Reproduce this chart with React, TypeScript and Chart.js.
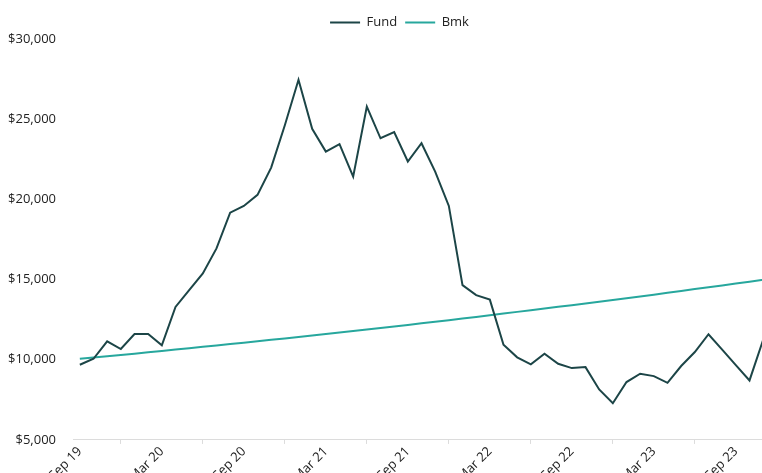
import React, { useEffect, useRef } from "react";
import { Chart, registerables } from "chart.js";

Chart.register(...registerables);

// Monthly categories Sep 19 .. Nov 23
const categories: string[] = [
  "Sep 19", "Oct 19", "Nov 19", "Dec 19",
  "Jan 20", "Feb 20", "Mar 20", "Apr 20", "May 20", "Jun 20", "Jul 20", "Aug 20", "Sep 20", "Oct 20", "Nov 20", "Dec 20",
  "Jan 21", "Feb 21", "Mar 21", "Apr 21", "May 21", "Jun 21", "Jul 21", "Aug 21", "Sep 21", "Oct 21", "Nov 21", "Dec 21",
  "Jan 22", "Feb 22", "Mar 22", "Apr 22", "May 22", "Jun 22", "Jul 22", "Aug 22", "Sep 22", "Oct 22", "Nov 22", "Dec 22",
  "Jan 23", "Feb 23", "Mar 23", "Apr 23", "May 23", "Jun 23", "Jul 23", "Aug 23", "Sep 23", "Oct 23", "Nov 23",
];

const fundValues: number[] = [
  9690, 10060, 11150, 10670, 11600, 11600, 10900, 13290, 14340, 15380, 16940, 19170,
  19590, 20280, 21980, 24620, 27460, 24400, 22980, 23440, 21420, 25790, 23810, 24190,
  22360, 23500, 21730, 19590, 14650, 14030, 13750, 10940, 10150, 9710, 10380, 9750,
  9480, 9540, 8150, 7290, 8610, 9130, 8980, 8560, 9610, 10480, 11590, 10630,
  9670, 8710, 11250,
];

const bmkValues: number[] = [
  10060, 10140, 10220, 10300, 10380, 10465, 10550, 10635, 10720, 10805, 10890, 10975,
  11060, 11150, 11240, 11330, 11420, 11510, 11600, 11695, 11790, 11885, 11980, 12075,
  12170, 12270, 12370, 12470, 12570, 12670, 12775, 12880, 12985, 13090, 13195, 13300,
  13405, 13510, 13620, 13730, 13840, 13950, 14060, 14175, 14290, 14405, 14520, 14635,
  14750, 14870, 14990,
];

const tickLabels: string[] = ["Sep 19", "Mar 20", "Sep 20", "Mar 21", "Sep 21", "Mar 22", "Sep 22", "Mar 23", "Sep 23"];

const yMin = 5000;
const yMax = 30000;
const yStep = 5000;

const FONT = "'Open Sans', 'Noto Sans', sans-serif";

export default function App() {
  const canvasRef = useRef<HTMLCanvasElement | null>(null);

  useEffect(() => {
    if (!canvasRef.current) return;
    const chart = new Chart(canvasRef.current, {
      type: "line",
      data: {
        labels: categories,
        datasets: [
          {
            label: "Fund",
            data: fundValues,
            borderColor: "#1c4547",
            backgroundColor: "#1c4547",
            borderWidth: 2,
            pointRadius: 0,
            tension: 0,
          },
          {
            label: "Bmk",
            data: bmkValues,
            borderColor: "#27a79d",
            backgroundColor: "#27a79d",
            borderWidth: 2,
            pointRadius: 0,
            tension: 0,
          },
        ],
      },
      options: {
        animation: false,
        responsive: true,
        maintainAspectRatio: false,
        layout: { padding: 0 },
        plugins: {
          legend: {
            display: true,
            position: "top",
            labels: {
              boxWidth: 30,
              boxHeight: 0,
              padding: 8,
              color: "#222",
              font: { family: FONT, size: 13 },
            },
          },
          tooltip: { enabled: false },
        },
        scales: {
          x: {
            type: "category",
            offset: true,
            border: { display: true, color: "#dcdcdc", width: 1 },
            grid: {
              display: true,
              offset: true,
              drawOnChartArea: false,
              drawTicks: true,
              tickLength: 4,
              color: "#dcdcdc",
            },
            ticks: {
              autoSkip: false,
              maxRotation: 45,
              minRotation: 45,
              padding: 0,
              color: "#222",
              font: { family: FONT, size: 13 },
              callback: (_v: any, i: number) => {
                const lab = categories[i];
                return tickLabels.includes(lab) ? lab : null;
              },
            },
            afterFit: (scale: any) => {
              scale.paddingLeft = 0;
              scale.paddingRight = 21;
            },
          },
          y: {
            min: yMin,
            max: yMax,
            border: { display: false },
            grid: { display: false, drawTicks: false },
            ticks: {
              stepSize: yStep,
              padding: 17,
              color: "#222",
              font: { family: FONT, size: 13 },
              callback: (v: any) => "$" + Number(v).toLocaleString("en-US"),
            },
            afterFit: (scale: any) => {
              scale.width = 65;
            },
          },
        },
      },
    });
    return () => chart.destroy();
  }, []);

  return (
    <div style={{ position: "fixed", left: 0, top: 0, width: 762, height: 473, overflow: "hidden" }}>
      <div style={{ position: "absolute", left: 8, top: 8, width: 783, height: 477 }}>
        <canvas ref={canvasRef} />
      </div>
    </div>
  );
}
